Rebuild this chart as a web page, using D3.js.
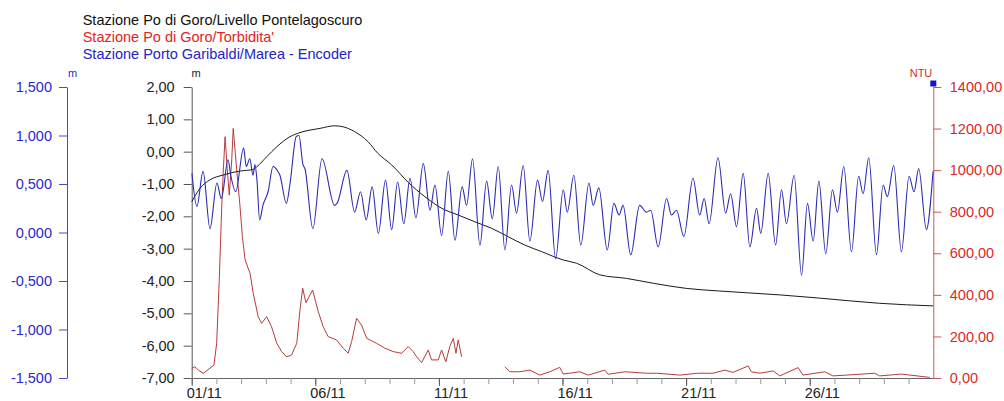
<!DOCTYPE html>
<html>
<head>
<meta charset="utf-8">
<script src="https://cdn.jsdelivr.net/npm/d3@7"></script>
<style>
  html, body { margin: 0; padding: 0; background: #fff; }
  svg { display: block; font-family: "Liberation Sans", Arial, sans-serif; }
</style>
</head>
<body>
<svg id="chart" width="1004" height="401"></svg>
<script>
// ---------- DATA ----------
const legendLabels = [
  "Stazione Po di Goro/Livello Pontelagoscuro",
  "Stazione Po di Goro/Torbidita'",
  "Stazione Porto Garibaldi/Marea - Encoder"
];
const dateLabels = ["01/11", "06/11", "11/11", "16/11", "21/11", "26/11"];
const dateLabelDays = [0, 5, 10, 15, 20, 25];
const minorTickDays = d3.range(0, 30);
const tideTicks = [-1.5, -1.0, -0.5, 0, 0.5, 1.0, 1.5];
const levelTicks = [-7, -6, -5, -4, -3, -2, -1, 0, 1, 2];
const turbTicks = [0, 200, 400, 600, 800, 1000, 1200, 1400];

// Marea (blue, left axis, m) : day offset from 01/11, value
const tideDays = [0.01,0.21,0.46,0.74,1.02,1.20,1.47,1.58,1.78,2.10,2.21,2.35,2.48,2.56,2.64,2.75,2.88,3.09,3.29,3.46,3.57,3.83,3.97,4.23,4.34,4.50,4.58,4.90,5.27,5.78,5.88,6.28,6.59,6.83,7.06,7.30,7.55,7.84,8.09,8.33,8.58,8.83,9.07,9.37,9.64,9.84,10.11,10.38,10.65,10.94,11.12,11.36,11.66,11.93,12.16,12.40,12.67,12.94,13.14,13.41,13.68,13.99,14.19,14.42,14.72,15.03,15.19,15.46,15.74,16.07,16.24,16.47,16.81,17.08,17.29,17.45,17.76,18.12,18.40,18.57,18.87,19.21,19.41,19.61,19.91,20.28,20.55,20.73,20.93,21.29,21.60,21.80,22.04,22.31,22.58,22.85,23.02,23.32,23.62,23.86,24.06,24.37,24.67,24.91,25.14,25.37,25.65,25.92,26.12,26.38,26.69,26.98,27.16,27.39,27.70,27.97,28.14,28.40,28.71,29.02,29.22,29.41,29.72,29.99];
const tideValues = [0.61,0.27,0.63,0.04,0.51,0.35,0.75,0.59,0.42,0.87,0.68,0.76,0.59,0.70,0.54,0.13,0.28,0.42,0.68,0.64,0.59,0.30,0.49,0.99,1.00,0.70,0.66,0.04,0.76,0.28,0.30,0.64,0.21,0.42,0.13,0.47,-0.01,0.54,0.03,0.52,0.09,0.56,0.15,0.71,0.23,0.49,-0.03,0.63,-0.08,0.47,0.28,0.76,-0.13,0.53,0.14,0.68,-0.18,0.49,0.20,0.69,-0.09,0.54,0.32,0.64,-0.27,0.44,0.21,0.59,-0.13,0.51,0.28,0.46,-0.18,0.30,0.18,0.28,-0.23,0.28,0.21,0.23,-0.15,0.35,0.18,0.23,-0.04,0.56,0.18,0.35,0.09,0.77,0.20,0.40,0.06,0.61,-0.15,0.25,-0.01,0.61,-0.13,0.44,0.09,0.59,-0.44,0.30,-0.09,0.53,-0.22,0.44,0.21,0.68,-0.20,0.58,0.40,0.77,-0.23,0.49,0.37,0.69,-0.20,0.58,0.42,0.66,0.03,0.63];

// Livello Pontelagoscuro (black, middle axis, m)
const levelDays = [0,0.34,0.74,1.28,1.95,2.49,2.63,3.03,3.44,3.97,4.38,5.19,5.78,6.12,6.59,7.13,7.53,8.09,8.76,9.43,10.11,10.78,11.46,12.13,12.80,13.48,14.15,15.03,15.57,16.51,17.59,18.67,20.02,21.36,23.79,25.41,27.83,29.99];
const levelValues = [-1.55,-1.13,-0.87,-0.72,-0.60,-0.55,-0.47,-0.16,0.15,0.46,0.59,0.72,0.80,0.77,0.62,0.31,-0.05,-0.41,-0.95,-1.39,-1.75,-1.96,-2.17,-2.37,-2.63,-2.89,-3.09,-3.35,-3.45,-3.81,-3.92,-4.07,-4.23,-4.31,-4.43,-4.53,-4.69,-4.77];

// Torbidita' (red, right axis, NTU) ; null = missing data
const turbDays = [0,0.13,0.27,0.47,0.74,0.90,1.01,1.12,1.21,1.28,1.35,1.44,1.52,1.62,1.68,1.82,1.95,2.05,2.16,2.36,2.49,2.69,2.83,3.03,3.23,3.44,3.64,3.84,4.04,4.25,4.38,4.49,4.62,4.89,5.12,5.32,5.52,5.86,6.13,6.33,6.47,6.67,6.87,7.08,7.48,7.82,8.15,8.49,8.76,8.96,9.10,9.30,9.57,9.70,9.97,10.11,10.28,10.44,10.58,10.69,10.78,10.92,
  11.8,
  12.67,12.87,13.28,13.68,14.08,14.49,14.89,15.03,15.70,16.04,16.71,16.85,17.52,18.40,18.80,19.74,20.49,21.09,21.57,21.90,22.51,22.64,22.98,23.52,23.79,24.53,24.73,25.61,25.94,26.49,27.63,27.83,28.71,29.85];
const turbValues = [47,54,38,23,47,62,167,487,808,1001,1161,1001,880,1049,1201,1001,832,680,568,504,407,295,263,295,247,167,127,102,111,167,327,432,362,423,319,247,199,183,143,119,175,287,255,191,167,143,127,119,151,127,102,74,135,87,87,135,78,151,191,119,183,102,
  null,
  54,30,30,38,14,30,51,19,30,14,38,18,30,23,23,14,23,23,38,27,58,30,23,34,10,50,14,30,10,14,23,10,19,3];

// ---------- CHART ----------
const svg = d3.select("#chart");
const FONT = 14.5;
const FAMILY = "Liberation Sans, Arial, sans-serif";
const plotTop = 87, plotBottom = 378, plotLeft = 191.7, plotRight = 933.3;

const x = d3.scaleLinear().domain([0, 30]).range([plotLeft, plotRight]);
const yTide = d3.scaleLinear().domain([-1.5, 1.5]).range([plotBottom, plotTop]);
const yLevel = d3.scaleLinear().domain([-7, 2]).range([plotBottom, plotTop]);
const yTurb = d3.scaleLinear().domain([0, 1400]).range([plotBottom, plotTop]);

const comma = (v, n) => v.toFixed(n).replace(".", ",");
const tideFmt = v => {
  const a = Math.abs(v);
  const s = (a * 1000).toFixed(0);
  const body = a >= 1 ? s[0] + "," + s.slice(1) : "0," + s.padStart(3, "0");
  return (v < 0 ? "-" : "") + body;
};

// Legend
const legendColors = ["#111111", "#e02424", "#2424c4"];
const legendBase = [25, 42.3, 59.4];
legendLabels.forEach((t, i) => {
  svg.append("text").attr("x", 82.7).attr("y", legendBase[i])
    .attr("font-size", FONT).attr("fill", legendColors[i]).text(t);
});

// Blue (tide) axis
const gTide = svg.append("g").attr("transform", "translate(67,0)")
  .call(d3.axisLeft(yTide).tickValues(tideTicks).tickSize(8).tickSizeOuter(0).tickPadding(7)
    .tickFormat(tideFmt));
gTide.selectAll("path, line").attr("stroke", "#4a4ac4");
gTide.selectAll("text").attr("fill", "#2a2ad0").attr("font-size", FONT).attr("font-family", FAMILY);

// Black (level) axis
const gLevel = svg.append("g").attr("transform", `translate(${plotLeft},0)`)
  .call(d3.axisLeft(yLevel).tickValues(levelTicks).tickSize(8).tickSizeOuter(0).tickPadding(9)
    .tickFormat(v => comma(v, 2)));
gLevel.selectAll("path, line").attr("stroke", "#555");
gLevel.selectAll("text").attr("fill", "#222").attr("font-size", FONT).attr("font-family", FAMILY);

// Red (turbidity) axis
const gTurb = svg.append("g").attr("transform", `translate(${plotRight},0)`)
  .call(d3.axisRight(yTurb).tickValues(turbTicks).tickSize(8).tickSizeOuter(0).tickPadding(8.5)
    .tickFormat(v => comma(v, 2)));
gTurb.selectAll("path, line").attr("stroke", "#c85a5a");
gTurb.selectAll("text").attr("fill", "#d82a2a").attr("font-size", FONT).attr("font-family", FAMILY);

// Bottom axis: minor daily ticks
const gMinor = svg.append("g").attr("transform", `translate(0,${plotBottom})`)
  .call(d3.axisBottom(x).tickValues(minorTickDays).tickSize(6).tickSizeOuter(0).tickFormat(""));
gMinor.selectAll("line").attr("stroke", "#9a9a9a");
gMinor.select("path").attr("stroke", "#666");

// Bottom axis: major ticks with labels
const gMajor = svg.append("g").attr("transform", `translate(0,${plotBottom})`)
  .call(d3.axisBottom(x).tickValues(dateLabelDays).tickSize(8).tickSizeOuter(0)
    .tickFormat((d, i) => dateLabels[i]));
gMajor.select("path").remove();
gMajor.selectAll("line").attr("stroke", "#555");
gMajor.selectAll("text").attr("fill", "#222").attr("font-size", FONT).attr("font-family", FAMILY)
  .attr("text-anchor", "start").attr("x", -5.5).attr("dy", null).attr("y", 19.5);

// Unit labels
svg.append("text").attr("x", 72.5).attr("y", 77).attr("text-anchor", "middle")
  .attr("font-size", 11).attr("fill", "#2a2ad0").text("m");
svg.append("text").attr("x", 196).attr("y", 77).attr("text-anchor", "middle")
  .attr("font-size", 11).attr("fill", "#222").text("m");
svg.append("text").attr("x", 921).attr("y", 77).attr("text-anchor", "middle")
  .attr("font-size", 11).attr("fill", "#d82a2a").text("NTU");
svg.append("rect").attr("x", plotRight - 3).attr("y", plotTop - 6.5).attr("width", 6).attr("height", 6)
  .attr("fill", "#1414d0");

// Series
const tideData = tideDays.map((d, i) => [d, tideValues[i]]);
const levelData = levelDays.map((d, i) => [d, levelValues[i]]);
const turbData = turbDays.map((d, i) => [d, turbValues[i]]);

svg.append("path").datum(turbData)
  .attr("fill", "none").attr("stroke", "#b63c3c").attr("stroke-width", 1)
  .attr("d", d3.line().defined(d => d[1] !== null).x(d => x(d[0])).y(d => yTurb(d[1])));

svg.append("path").datum(levelData)
  .attr("fill", "none").attr("stroke", "#1a1a1a").attr("stroke-width", 1)
  .attr("d", d3.line().curve(d3.curveMonotoneX).x(d => x(d[0])).y(d => yLevel(d[1])));

svg.append("path").datum(tideData)
  .attr("fill", "none").attr("stroke", "#2b2bb4").attr("stroke-width", 1.1)
  .attr("d", d3.line().curve(d3.curveMonotoneX).x(d => x(d[0])).y(d => yTide(d[1])));
</script>
</body>
</html>
